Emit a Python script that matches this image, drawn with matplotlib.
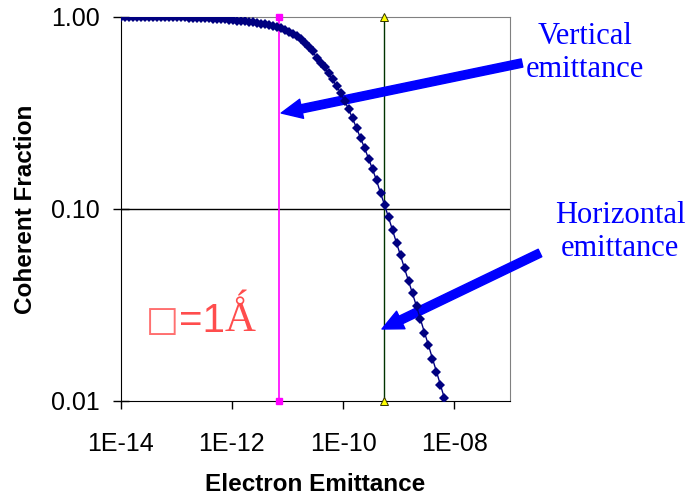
import matplotlib
matplotlib.use("Agg")
import numpy as np
from matplotlib import pyplot as plt
from matplotlib.ticker import FixedLocator, FuncFormatter

# emittance samples, in units of 1e-14 m rad
emit_e14 = [1.0, 1.18, 1.392, 1.643, 1.939, 2.288, 2.700, 3.186, 3.759, 4.436,
            5.234, 6.176, 7.288, 8.599, 10.15, 11.97, 14.13, 16.67, 19.67, 23.21,
            27.39, 32.32, 38.14, 45.01, 53.11, 62.67, 73.95, 87.26, 103.0, 121.5,
            143.4, 169.2, 199.6, 235.6, 278.0, 328.0, 387.0, 456.7, 538.9, 635.9,
            750.4, 885.5, 1045, 1233, 1455, 1717, 2026, 2390, 2821, 3328,
            3928, 4635, 5469, 6453, 7615, 8985, 10603, 12511, 14763, 17420,
            20556, 24256, 28622, 33774, 39853, 47027, 55492, 65480, 77267, 91175,
            107586, 126952, 149803, 176768, 208586, 246132, 290436, 342714, 404403, 477195,
            563091, 664447]
coherent = [1.000, 1.000, 1.000, 1.000, 0.999, 0.999, 0.999, 0.999, 0.999, 0.998,
            0.998, 0.998, 0.997, 0.997, 0.996, 0.995, 0.994, 0.993, 0.992, 0.990,
            0.988, 0.986, 0.984, 0.981, 0.978, 0.975, 0.971, 0.967, 0.963, 0.958,
            0.953, 0.948, 0.942, 0.936, 0.930, 0.922, 0.914, 0.906, 0.898, 0.887,
            0.871, 0.856, 0.837, 0.815, 0.796, 0.764, 0.732, 0.694, 0.661, 0.615,
            0.579, 0.546, 0.508, 0.473, 0.435, 0.404, 0.365, 0.332, 0.296, 0.264,
            0.234, 0.208, 0.183, 0.161, 0.141, 0.121, 0.105, 0.0903, 0.0777, 0.0665,
            0.0573, 0.0490, 0.0422, 0.0363, 0.0311, 0.0266, 0.0227, 0.0195, 0.0166, 0.0142,
            0.0121, 0.0103]

vert_emit = 7.0e-12    # vertical emittance marker
horiz_emit = 5.4e-10   # horizontal emittance marker
x_ticks = [1e-14, 1e-12, 1e-10, 1e-8]
y_ticks = [0.01, 0.1, 1.0]

emit = np.array(emit_e14) * 1e-14

fig = plt.figure(figsize=(6.91, 4.95), dpi=100)
ax = fig.add_axes([0.1747, 0.19, 0.5633, 0.7757])

ax.plot(emit, coherent, color="#000080", lw=1.0, marker="D", ms=4.6,
        markeredgewidth=0, zorder=4)

ax.plot([vert_emit, vert_emit], [0.01, 1.0], color="#ff00ff", lw=1.2,
        marker="s", ms=5, clip_on=False, zorder=3)
ax.plot([horiz_emit, horiz_emit], [0.01, 1.0], color="#003300", lw=1.0,
        zorder=3)
ax.plot([horiz_emit, horiz_emit], [0.01, 1.0], ls="none", marker="^", ms=5.5,
        markerfacecolor="#ffff00", markeredgecolor="#333300", markeredgewidth=0.7,
        clip_on=False, zorder=5)

ax.axhline(0.1, color="black", lw=1.0, zorder=2)

ax.set_xscale("log")
ax.set_yscale("log")
ax.set_xlim(1e-14, 1e-7)
ax.set_ylim(0.01, 1.0)

ax.xaxis.set_major_locator(FixedLocator(x_ticks))
ax.xaxis.set_minor_locator(FixedLocator([]))
ax.yaxis.set_major_locator(FixedLocator(y_ticks))
ax.yaxis.set_minor_locator(FixedLocator([]))
ax.xaxis.set_major_formatter(FuncFormatter(lambda v, p: "1E%03d" % round(np.log10(v))))
ax.yaxis.set_major_formatter(FuncFormatter(lambda v, p: "%.2f" % v))

ax.tick_params(axis="x", direction="out", length=6, width=1, pad=16,
               labelsize=18, labelfontfamily="Liberation Sans")
ax.tick_params(axis="y", direction="inout", length=12, width=1, pad=9,
               labelsize=18, labelfontfamily="Liberation Sans")

for side in ["top", "right"]:
    ax.spines[side].set_color("#808080")
for side in ["left", "bottom"]:
    ax.spines[side].set_color("black")

ax.set_xlabel("Electron Emittance", family="Liberation Sans", weight="bold",
              fontsize=17.5)
ax.xaxis.set_label_coords(0.5, -0.188)
ax.set_ylabel("Coherent Fraction", family="Liberation Sans", weight="bold",
              fontsize=17.5)
ax.yaxis.set_label_coords(-0.216, 0.5)

blue = "#0000ff"
fig.text(585, 442, "Vertical\nemittance", transform=None, ha="center",
         va="center", family="Liberation Serif", fontsize=22, color=blue,
         multialignment="center")
fig.text(620, 263, "Horizontal\nemittance", transform=None, ha="center",
         va="center", family="Liberation Serif", fontsize=22, color=blue,
         multialignment="center")

arrow = dict(arrowstyle="simple,head_length=0.75,head_width=0.7,tail_width=0.3",
             color=blue, shrinkA=0, shrinkB=0, mutation_scale=20)
ax.annotate("", xy=(7.7e-12, 0.316), xycoords="data",
            xytext=(522, 432), textcoords="figure pixels", arrowprops=arrow)
ax.annotate("", xy=(5.0e-10, 0.0237), xycoords="data",
            xytext=(540, 242), textcoords="figure pixels", arrowprops=arrow)

# wavelength label, box glyph + "=1" + angstrom, each in its own face
red = "#ff4d4d"
t1 = fig.text(146, 157, "\u25a1", transform=None, ha="left", va="bottom",
              family="DejaVu Sans", fontsize=25, color="#ff7070")
t2 = ax.annotate("=1", xy=(1, 0), xycoords=t1, xytext=(0, -1.5),
                 textcoords="offset points", ha="left", va="bottom",
                 fontfamily="Liberation Sans", fontsize=29, color=red)
ax.annotate("\u01fa", xy=(1, 0), xycoords=t2, ha="left", va="bottom",
            fontfamily="Liberation Serif", fontsize=31, color=red)

fig.savefig("out.png", dpi=100)
